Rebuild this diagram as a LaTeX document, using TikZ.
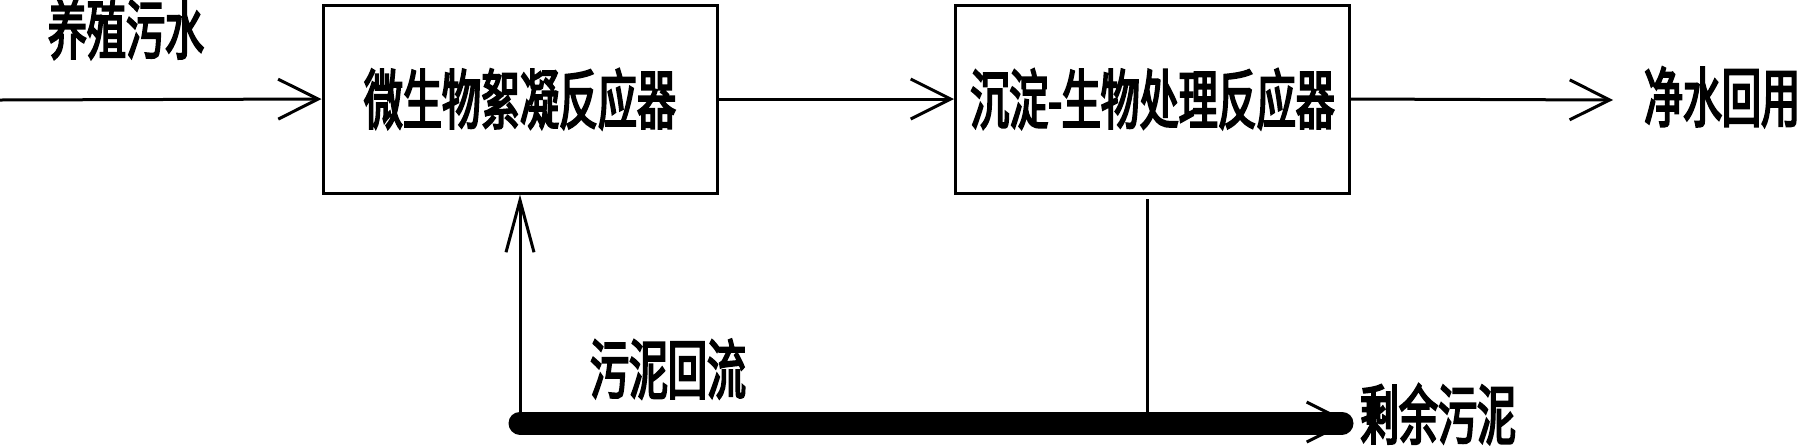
\documentclass[tikz,border=0pt]{standalone}
\usepackage{fontspec}
\newfontfamily\cjk{Noto Sans CJK SC}[FakeStretch=0.6,FakeBold=3]
\usetikzlibrary{arrows.meta}
\tikzset{
  box/.style={draw, line width=1.5pt, minimum width=197pt, minimum height=94pt, inner sep=0pt, font=\cjk\fontsize{32.5pt}{32.5pt}\selectfont},
  lbl/.style={inner sep=0pt, font=\cjk\fontsize{32.5pt}{32.5pt}\selectfont},
  flow/.style={line width=1.5pt, -{Straight Barb[length=20pt,width=20pt,line width=1.5pt]}},
  upflow/.style={line width=1.5pt, -{Straight Barb[length=26pt,width=14pt,line width=1.5pt]}},
  plain/.style={line width=1.5pt},
  bar/.style={line width=11.5pt, line cap=round}
}
\begin{document}
\begin{tikzpicture}[x=0.5pt,y=-0.5pt]
\useasboundingbox (0,0) rectangle (1805,446);
\node[box] (b1) at (520,99) {微生物絮凝反应器};
\node[box] (b2) at (1152.5,99) {沉淀-生物处理反应器};
\node[lbl] (t1) at (126,29) {养殖污水};
\node[lbl] (t2) at (1722,97) {净水回用};
\node[lbl] (t3) at (668,369) {污泥回流};
\node[lbl] (t4) at (1438,414) {剩余污泥};
\coordinate (in) at (0,100);
\coordinate (out) at (1613,100);
\coordinate (bs) at (520,423);
\coordinate (be) at (1342,423);
\coordinate (bt) at (1350,422);
\coordinate (v2) at (1147,199);
\coordinate (v2e) at (1147,423);
\draw[flow] (in) -- (b1.west);
\draw[flow] (b1.east) -- (b2.west);
\draw[flow] (b2.east) -- (out);
\draw[upflow] (bs) -- (b1.south);
\draw[plain] (v2) -- (v2e);
\draw[flow] (bs) -- (bt);
\draw[bar] (bs) -- (be);
\end{tikzpicture}
\end{document}
